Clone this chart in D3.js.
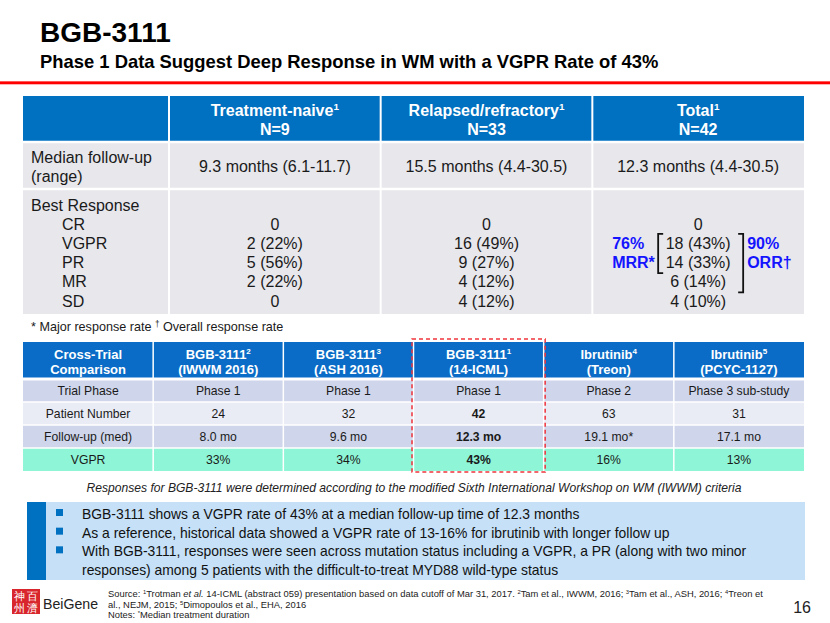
<!DOCTYPE html>
<html><head><meta charset="utf-8">
<script src="https://cdn.jsdelivr.net/npm/d3@7"></script>
<style>
body{margin:0;background:#fff}
svg{display:block}
text{font-family:"Liberation Sans",Arial,sans-serif}
</style>
</head><body>
<svg id="c" width="830" height="623"></svg>
<script>
// ---------- DATA ----------
const title = "BGB-3111";
const subtitle = "Phase 1 Data Suggest Deep Response in WM with a VGPR Rate of 43%";

const topGroups = ["Treatment-naive", "Relapsed/refractory", "Total"];
const topGroupSup = ["1", "1", "1"];
const topN = ["N=9", "N=33", "N=42"];
const followUpLabel = ["Median follow-up", "(range)"];
const followUp = ["9.3 months (6.1-11.7)", "15.5 months (4.4-30.5)", "12.3 months (4.4-30.5)"];
const responseTitle = "Best Response";
const responseCategories = ["CR", "VGPR", "PR", "MR", "SD"];
const responseNaive = ["0", "2 (22%)", "5 (56%)", "2 (22%)", "0"];
const responseRelapsed = ["0", "16 (49%)", "9 (27%)", "4 (12%)", "4 (12%)"];
const responseTotal = ["0", "18 (43%)", "14 (33%)", "6 (14%)", "4 (10%)"];
const mrr = ["76%", "MRR*"];
const orr = ["90%", "ORR\u2020"];
const footnoteTop = "* Major response rate \u2020 Overall response rate";

const trialHeadLine1 = ["Cross-Trial", "BGB-3111", "BGB-3111", "BGB-3111", "Ibrutinib", "Ibrutinib"];
const trialHeadSup = ["", "2", "3", "1", "4", "5"];
const trialHeadLine2 = ["Comparison", "(IWWM 2016)", "(ASH 2016)", "(14-ICML)", "(Treon)", "(PCYC-1127)"];
const trialRowLabels = ["Trial Phase", "Patient Number", "Follow-up (med)", "VGPR"];
const trialPhase = ["Phase 1", "Phase 1", "Phase 1", "Phase 2", "Phase 3 sub-study"];
const patientNumber = ["24", "32", "42", "63", "31"];
const followUpMed = ["8.0 mo", "9.6 mo", "12.3 mo", "19.1 mo*", "17.1 mo"];
const vgprRate = ["33%", "34%", "43%", "16%", "13%"];
const highlightCol = 3;
const trialNote = "Responses for BGB-3111 were determined according to the modified Sixth International Workshop on WM (IWWM) criteria";

const bullets = [
  "BGB-3111 shows a VGPR rate of 43% at a median follow-up time of 12.3 months",
  "As a reference, historical data showed a VGPR rate of 13-16% for ibrutinib with longer follow up",
  "With BGB-3111, responses were seen across mutation status including a VGPR, a PR (along with two minor",
  "responses) among 5 patients with the difficult-to-treat MYD88 wild-type status"
];
const bulletMarks = [true, true, true, false];

const sourceLines = [
  [["Source: "], ["1", "sup"], ["Trotman "], ["et al.", "it"], [" 14-ICML (abstract 059) presentation based on data cutoff of Mar 31, 2017. "], ["2", "sup"], ["Tam et al., IWWM, 2016; "], ["3", "sup"], ["Tam et al., ASH, 2016; "], ["4", "sup"], ["Treon et"]],
  [["al., NEJM, 2015; "], ["5", "sup"], ["Dimopoulos et al., EHA, 2016"]],
  [["Notes: "], ["*", "sup"], ["Median treatment duration"]]
];
const pageNumber = "16";
const brandName = "BeiGene";
const sealChars = ["百", "濟", "神", "州"];

// ---------- DRAW ----------
const svg = d3.select("#c");
const BLUE = "#0070C0";
const TXT = "#1a1a1a";

// title
svg.append("text").attr("x", 40).attr("y", 42).attr("font-size", 28).attr("font-weight", "bold").attr("fill", "#000").text(title);
svg.append("text").attr("x", 40).attr("y", 68).attr("font-size", 18.4).attr("font-weight", "bold").attr("fill", "#000").text(subtitle);
svg.append("rect").attr("x", 0).attr("y", 81).attr("width", 830).attr("height", 4).attr("fill", "#ffb3b3");
svg.append("rect").attr("x", 0).attr("y", 81.5).attr("width", 830).attr("height", 2.5).attr("fill", "#ff0000");

// rich text helper
function rich(sel, segs, supShift) {
  segs.forEach(([t, kind], i) => {
    const ts = sel.append("tspan").text(t);
    if (kind === "sup") ts.attr("font-size", "0.62em").attr("dy", -supShift);
    if (kind === "it") ts.attr("font-style", "italic");
    if (i > 0 && segs[i - 1][1] === "sup") ts.attr("dy", supShift);
  });
}

// ----- top table -----
const tL = 23, tR = 804;
const topX = d3.scaleBand().domain(topGroups).range([169, tR]);
const rowsTop = [[96, 142], [142, 189], [189, 314]];
const g1 = svg.append("g");
g1.append("rect").attr("x", tL).attr("y", rowsTop[0][0]).attr("width", tR - tL).attr("height", rowsTop[0][1] - rowsTop[0][0]).attr("fill", BLUE);
[1, 2].forEach(r => {
  g1.append("rect").attr("x", tL).attr("y", rowsTop[r][0]).attr("width", tR - tL).attr("height", rowsTop[r][1] - rowsTop[r][0]).attr("fill", "#E7E7EC");
});
rowsTop.slice(1).forEach(r => g1.append("line").attr("x1", tL).attr("x2", tR).attr("y1", r[0]).attr("y2", r[0]).attr("stroke", "#fff").attr("stroke-width", 2.5));
topGroups.forEach(gp => g1.append("line").attr("x1", topX(gp)).attr("x2", topX(gp)).attr("y1", rowsTop[0][0]).attr("y2", rowsTop[2][1]).attr("stroke", "#fff").attr("stroke-width", 2));

topGroups.forEach((gp, i) => {
  const cx = topX(gp) + topX.bandwidth() / 2;
  const t = g1.append("text").attr("x", cx).attr("y", 116).attr("text-anchor", "middle").attr("fill", "#fff").attr("font-size", 16).attr("font-weight", "bold");
  rich(t, [[gp], [topGroupSup[i], "sup"]], 6);
  g1.append("text").attr("x", cx).attr("y", 135).attr("text-anchor", "middle").attr("fill", "#fff").attr("font-size", 16).attr("font-weight", "bold").text(topN[i]);
  g1.append("text").attr("x", cx).attr("y", 172).attr("text-anchor", "middle").attr("fill", TXT).attr("font-size", 16).text(followUp[i]);
});
followUpLabel.forEach((l, i) => g1.append("text").attr("x", 31).attr("y", 163 + i * 19).attr("fill", TXT).attr("font-size", 16).text(l));

const ry = d3.scalePoint().domain([responseTitle, ...responseCategories]).range([210.5, 306.5]);
g1.append("text").attr("x", 31).attr("y", ry(responseTitle)).attr("fill", TXT).attr("font-size", 16).text(responseTitle);
responseCategories.forEach(c => g1.append("text").attr("x", 62).attr("y", ry(c)).attr("fill", TXT).attr("font-size", 16).text(c));
[responseNaive, responseRelapsed, responseTotal].forEach((arr, i) => {
  const cx = topX(topGroups[i]) + topX.bandwidth() / 2;
  arr.forEach((v, j) => g1.append("text").attr("x", cx).attr("y", ry(responseCategories[j])).attr("text-anchor", "middle").attr("fill", TXT).attr("font-size", 16).text(v));
});
{
  const cx = topX("Total") + topX.bandwidth() / 2;
  const bl = cx - 40, br = cx + 45;
  const y0 = ry("VGPR") - 15, y1 = ry("PR") + 5, y2 = ry("MR") + 5;
  g1.append("path").attr("d", `M${bl + 5},${y0}H${bl}V${y1}H${bl + 5}`).attr("fill", "none").attr("stroke", "#111").attr("stroke-width", 1.8);
  g1.append("path").attr("d", `M${br - 5},${y0}H${br}V${y2}H${br - 5}`).attr("fill", "none").attr("stroke", "#111").attr("stroke-width", 1.8);
  mrr.forEach((t, i) => g1.append("text").attr("x", cx - 86).attr("y", ry(responseCategories[1 + i])).attr("fill", "#1414FF").attr("font-size", 16).attr("font-weight", "bold").text(t));
  orr.forEach((t, i) => g1.append("text").attr("x", br + 4).attr("y", ry(responseCategories[1 + i])).attr("fill", "#1414FF").attr("font-size", 16).attr("font-weight", "bold").text(t));
}
svg.append("text").attr("x", 31).attr("y", 331).attr("fill", TXT).attr("font-size", 12.6).call(t => {
  const parts = footnoteTop.split("\u2020");
  t.append("tspan").text(parts[0]);
  t.append("tspan").attr("font-size", "0.65em").attr("dy", -4).text("\u2020");
  t.append("tspan").attr("dy", 4).text(parts[1]);
});

// ----- cross-trial table -----
const g2 = svg.append("g");
const tx = d3.scaleBand().domain(d3.range(6)).range([tL, tR]);
const headTop = 342, headBot = 379;
const trY = d3.scaleBand().domain(trialRowLabels).range([headBot, 471]);
const rowFill = { "Trial Phase": "#CFD5EA", "Patient Number": "#E9EBF5", "Follow-up (med)": "#CFD5EA", "VGPR": "#8EF5D6" };
g2.append("rect").attr("x", tL).attr("y", headTop).attr("width", tR - tL).attr("height", headBot - headTop).attr("fill", "#0A6CC6");
trialRowLabels.forEach(r => g2.append("rect").attr("x", tL).attr("y", trY(r)).attr("width", tR - tL).attr("height", trY.bandwidth()).attr("fill", rowFill[r]));
trialRowLabels.forEach(r => g2.append("line").attr("x1", tL).attr("x2", tR).attr("y1", trY(r)).attr("y2", trY(r)).attr("stroke", "#fff").attr("stroke-width", r === trialRowLabels[0] ? 3 : 1.5));
d3.range(1, 6).forEach(i => g2.append("line").attr("x1", tx(i)).attr("x2", tx(i)).attr("y1", headTop).attr("y2", 471).attr("stroke", "#fff").attr("stroke-width", 1.5));

d3.range(6).forEach(i => {
  const cx = tx(i) + tx.bandwidth() / 2;
  const t = g2.append("text").attr("x", cx).attr("y", 359).attr("text-anchor", "middle").attr("fill", "#fff").attr("font-size", 13).attr("font-weight", "bold");
  rich(t, trialHeadSup[i] ? [[trialHeadLine1[i]], [trialHeadSup[i], "sup"]] : [[trialHeadLine1[i]]], 5);
  g2.append("text").attr("x", cx).attr("y", 373.5).attr("text-anchor", "middle").attr("fill", "#fff").attr("font-size", 13).attr("font-weight", "bold").text(trialHeadLine2[i]);
});
const trialRowsData = [trialPhase, patientNumber, followUpMed, vgprRate];
trialRowLabels.forEach((r, ri) => {
  const y = trY(r) + trY.bandwidth() / 2 + 4.5;
  g2.append("text").attr("x", tx(0) + tx.bandwidth() / 2).attr("y", y).attr("text-anchor", "middle").attr("fill", TXT).attr("font-size", 12.2).text(r);
  trialRowsData[ri].forEach((v, ci) => {
    g2.append("text").attr("x", tx(ci + 1) + tx.bandwidth() / 2).attr("y", y).attr("text-anchor", "middle").attr("fill", TXT).attr("font-size", 12.2)
      .attr("font-weight", (ci + 1 === highlightCol && ri > 0) ? "bold" : "normal").text(v);
  });
});
g2.append("rect").attr("x", tx(highlightCol) - 1.5).attr("y", headTop - 3).attr("width", tx.bandwidth() + 3).attr("height", 471 - headTop + 4)
  .attr("fill", "none").attr("stroke", "#F0343C").attr("stroke-width", 1.5).attr("stroke-dasharray", "4,3");

svg.append("text").attr("x", 414).attr("y", 492).attr("text-anchor", "middle").attr("fill", "#222").attr("font-size", 12.1).attr("font-style", "italic").text(trialNote);

// ----- bullet box -----
svg.append("rect").attr("x", 27).attr("y", 502).attr("width", 778).attr("height", 78).attr("fill", "#C5E0F7");
svg.append("rect").attr("x", 27).attr("y", 502).attr("width", 19).attr("height", 78).attr("fill", BLUE);
const by = d3.scalePoint().domain(d3.range(bullets.length)).range([519, 575]);
bullets.forEach((b, i) => {
  if (bulletMarks[i]) svg.append("rect").attr("x", 56).attr("y", by(i) - 10).attr("width", 7).attr("height", 7).attr("fill", BLUE);
  svg.append("text").attr("x", 82).attr("y", by(i)).attr("fill", "#111").attr("font-size", 13.9).text(b);
});

// ----- footer -----
svg.append("rect").attr("x", 12).attr("y", 589).attr("width", 28).attr("height", 25).attr("fill", "#D8262C");
sealChars.forEach((c, i) => {
  svg.append("text").attr("x", 12 + 7 + (1 - Math.floor(i / 2)) * 13.5).attr("y", 589 + 11 + (i % 2) * 12).attr("text-anchor", "middle")
    .attr("font-family", "Noto Sans CJK SC").attr("font-size", 11).attr("fill", "#fff").text(c);
});
svg.append("text").attr("x", 43).attr("y", 609).attr("font-family", "Liberation Serif").attr("font-size", 15)
  .attr("textLength", 55).attr("lengthAdjust", "spacingAndGlyphs").attr("fill", "#222").text(brandName);
const sy = d3.scalePoint().domain(d3.range(sourceLines.length)).range([597, 618]);
sourceLines.forEach((segs, i) => {
  const t = svg.append("text").attr("x", 108).attr("y", sy(i)).attr("font-size", 9.4).attr("fill", "#222");
  rich(t, segs, 3);
});
svg.append("text").attr("x", 811).attr("y", 613).attr("text-anchor", "end").attr("font-size", 16).attr("fill", "#222").text(pageNumber);
</script>
</body></html>
